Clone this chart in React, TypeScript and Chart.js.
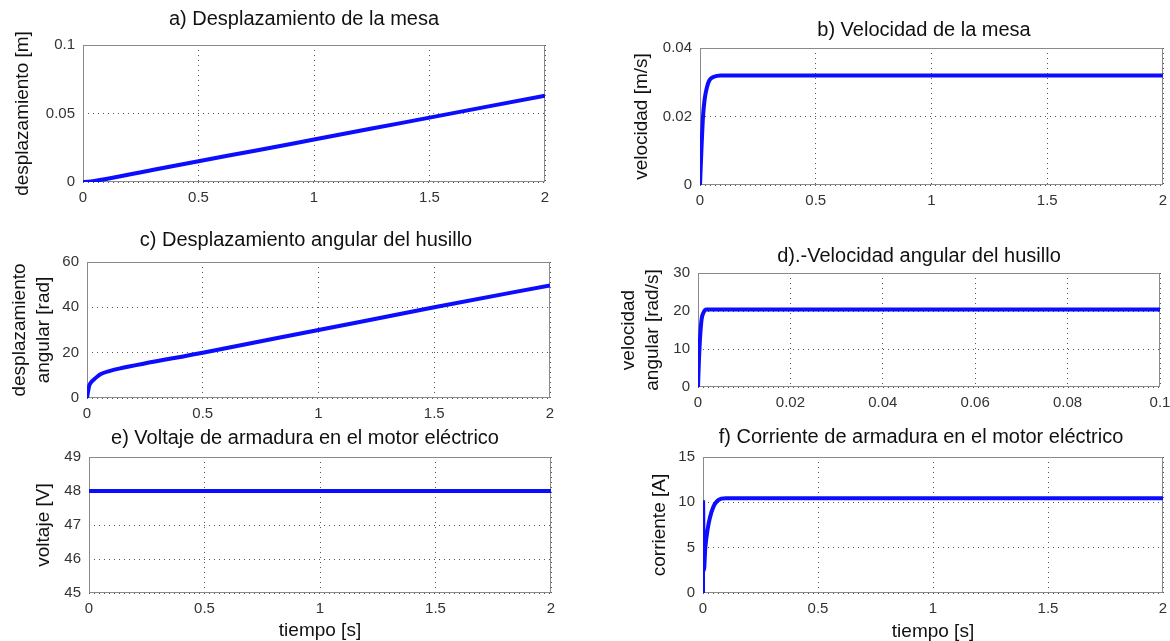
import React, { useEffect, useRef } from 'react';
import { Chart, registerables } from 'chart.js';
Chart.register(...registerables);

// ---------- data ----------
const tA = [0, 0.02, 0.05, 0.1, 0.3, 0.5, 0.75, 1, 1.25, 1.5, 1.75, 2];
const desplazamiento = [0, 0.0002, 0.0008, 0.0022, 0.0088, 0.0152, 0.023, 0.031, 0.039, 0.047, 0.055, 0.063];

const tB = [0, 0.006, 0.013, 0.02, 0.03, 0.04, 0.06, 0.09, 0.5, 1, 1.5, 2];
const velocidad = [0, 0.01, 0.02, 0.025, 0.0285, 0.0305, 0.0316, 0.032, 0.032, 0.032, 0.032, 0.032];

const tC = [0, 0.005, 0.01, 0.02, 0.03, 0.045, 0.06, 0.1, 0.145, 0.5, 1, 1.5, 2];
const despAngular = [0, 3, 5.5, 7.2, 8.2, 9.5, 10.6, 12, 13.1, 20, 30, 40, 49.7];

const tD = [0, 0.0002, 0.0005, 0.0008, 0.0012, 0.0018, 0.1];
const velAngular = [0, 7, 14, 18, 19.6, 20.4, 20.4];

const tE = [0, 2];
const voltaje = [48, 48];

const tF = [0, 0.0005, 0.002, 0.004, 0.01, 0.02, 0.03, 0.045, 0.06, 0.08, 0.1, 2];
const corriente = [0, 10, 5.5, 2.5, 5, 7, 8.3, 9.5, 10.1, 10.4, 10.45, 10.45];

const xTicksTime = [0, 0.5, 1, 1.5, 2];
const xTickLabelsTime = ['0', '0.5', '1', '1.5', '2'];
const xTicksShort = [0, 0.02, 0.04, 0.06, 0.08, 0.1];
const xTickLabelsShort = ['0', '0.02', '0.04', '0.06', '0.08', '0.1'];

const yTicksA = [0, 0.05, 0.1];
const yTickLabelsA = ['0', '0.05', '0.1'];
const yTicksB = [0, 0.02, 0.04];
const yTickLabelsB = ['0', '0.02', '0.04'];
const yTicksC = [0, 20, 40, 60];
const yTickLabelsC = ['0', '20', '40', '60'];
const yTicksD = [0, 10, 20, 30];
const yTickLabelsD = ['0', '10', '20', '30'];
const yTicksE = [45, 46, 47, 48, 49];
const yTickLabelsE = ['45', '46', '47', '48', '49'];
const yTicksF = [0, 5, 10, 15];
const yTickLabelsF = ['0', '5', '10', '15'];

// ---------- layout / style ----------
const FONT = "'Liberation Sans', Arial, sans-serif";
const LINE_COLOR = '#0c0cff';
const TITLE_SIZE = 20;
const TITLE_LH = 24;
const AXIS_TITLE_SIZE = 19;
const AXIS_TITLE_LH = 24;
const TICK_SIZE = 15;

type Box = { l: number; r: number; t: number; b: number; titleX: number; titleY: number; yLabelX: number; xTitleY?: number };

type PanelDef = {
  title: string;
  yTitle: string | string[];
  xTitle?: string;
  xs: number[];
  ys: number[];
  xTicks: number[];
  xTickLabels: string[];
  yTicks: number[];
  yTickLabels: string[];
  box: Box;
};

const panels: PanelDef[] = [
  {
    title: 'a) Desplazamiento de la mesa', yTitle: 'desplazamiento [m]',
    xs: tA, ys: desplazamiento, xTicks: xTicksTime, xTickLabels: xTickLabelsTime,
    yTicks: yTicksA, yTickLabels: yTickLabelsA,
    box: { l: 83, r: 545, t: 45, b: 182, titleX: 304, titleY: 19, yLabelX: 23 },
  },
  {
    title: 'b) Velocidad de la mesa', yTitle: 'velocidad [m/s]',
    xs: tB, ys: velocidad, xTicks: xTicksTime, xTickLabels: xTickLabelsTime,
    yTicks: yTicksB, yTickLabels: yTickLabelsB,
    box: { l: 700, r: 1163, t: 48, b: 185, titleX: 924, titleY: 30, yLabelX: 642 },
  },
  {
    title: 'c) Desplazamiento angular del husillo', yTitle: ['desplazamiento', 'angular [rad]'],
    xs: tC, ys: despAngular, xTicks: xTicksTime, xTickLabels: xTickLabelsTime,
    yTicks: yTicksC, yTickLabels: yTickLabelsC,
    box: { l: 87, r: 550, t: 262, b: 398, titleX: 306, titleY: 240, yLabelX: 20 },
  },
  {
    title: 'd).-Velocidad angular del husillo', yTitle: ['velocidad', 'angular [rad/s]'],
    xs: tD, ys: velAngular, xTicks: xTicksShort, xTickLabels: xTickLabelsShort,
    yTicks: yTicksD, yTickLabels: yTickLabelsD,
    box: { l: 698, r: 1160, t: 273, b: 387, titleX: 919, titleY: 256, yLabelX: 629 },
  },
  {
    title: 'e) Voltaje de armadura en el motor eléctrico', yTitle: 'voltaje [V]', xTitle: 'tiempo [s]',
    xs: tE, ys: voltaje, xTicks: xTicksTime, xTickLabels: xTickLabelsTime,
    yTicks: yTicksE, yTickLabels: yTickLabelsE,
    box: { l: 89, r: 551, t: 457, b: 593, titleX: 305, titleY: 438, yLabelX: 44, xTitleY: 631 },
  },
  {
    title: 'f) Corriente de armadura en el motor eléctrico', yTitle: 'corriente [A]', xTitle: 'tiempo [s]',
    xs: tF, ys: corriente, xTicks: xTicksTime, xTickLabels: xTickLabelsTime,
    yTicks: yTicksF, yTickLabels: yTickLabelsF,
    box: { l: 703, r: 1163, t: 457, b: 593, titleX: 921, titleY: 437, yLabelX: 660, xTitleY: 632 },
  },
];

const framePlugin = {
  id: 'frame',
  beforeDatasetsDraw(chart: any) {
    const { ctx, chartArea } = chart;
    const l = Math.round(chartArea.left) + 0.5;
    const t = Math.round(chartArea.top) + 0.5;
    const r = Math.round(chartArea.right) - 0.5;
    const b = Math.round(chartArea.bottom) - 0.5;
    ctx.save();
    ctx.strokeStyle = '#8a8a8a';
    ctx.lineWidth = 1;
    ctx.setLineDash([]);
    ctx.strokeRect(l, t, r - l, b - t);
    ctx.restore();
  },
};

function PanelChart({ p }: { p: PanelDef }) {
  const ref = useRef<HTMLCanvasElement | null>(null);
  const { box } = p;
  // horizontal geometry: the title is centred on the canvas, so the canvas is
  // centred on titleX; an empty right-hand axis fills the space right of the plot
  const cLeft = box.l - 100;
  const cWidth = Math.round(2 * (box.titleX - cLeft));
  const yWidth = box.l - cLeft;
  const rightSpace = cWidth - (box.r - cLeft);
  // vertical geometry
  const titlePadTop = 2;
  const cTop = Math.round(box.titleY - titlePadTop - TITLE_LH / 2);
  const titlePadBottom = box.t - cTop - titlePadTop - TITLE_LH;
  const xHeight = p.xTitle ? 52 : 30;
  const cHeight = box.b + xHeight - cTop;

  useEffect(() => {
    if (!ref.current) return;
    const data = p.xs.map((x, i) => ({ x, y: p.ys[i] }));
    const grid = {
      color: '#555',
      lineWidth: 1,
      drawTicks: false,
      tickLength: 0,
    };
    const chart = new Chart(ref.current, {
      type: 'line',
      data: {
        datasets: [
          {
            data,
            borderColor: LINE_COLOR,
            backgroundColor: LINE_COLOR,
            borderWidth: 4,
            pointRadius: 0,
            cubicInterpolationMode: 'monotone',
            fill: false,
            xAxisID: 'x',
            yAxisID: 'y',
          },
        ],
      },
      options: {
        animation: false,
        responsive: false,
        events: [],
        layout: { padding: 0 },
        plugins: {
          legend: { display: false },
          tooltip: { enabled: false },
          title: {
            display: true,
            text: p.title,
            color: '#111',
            font: { family: FONT, size: TITLE_SIZE, weight: 'normal', lineHeight: TITLE_LH + 'px' },
            padding: { top: titlePadTop, bottom: titlePadBottom },
          },
        },
        scales: {
          x: {
            type: 'linear',
            min: p.xTicks[0],
            max: p.xTicks[p.xTicks.length - 1],
            afterBuildTicks: (s: any) => { s.ticks = p.xTicks.map((v) => ({ value: v })); },
            afterFit: (s: any) => { s.height = xHeight; },
            grid: { ...grid },
            border: { display: false, dash: [1, 4] },
            ticks: {
              autoSkip: false,
              maxRotation: 0,
              padding: 7,
              color: '#333',
              font: { family: FONT, size: TICK_SIZE },
              callback: (v: any) => { const i = p.xTicks.indexOf(Number(v)); return i >= 0 ? p.xTickLabels[i] : ''; },
            },
            title: p.xTitle
              ? {
                  display: true,
                  text: p.xTitle,
                  color: '#111',
                  font: { family: FONT, size: AXIS_TITLE_SIZE, lineHeight: AXIS_TITLE_LH + 'px' },
                  padding: { top: 0, bottom: (box.b + xHeight) - (box.xTitleY as number) - AXIS_TITLE_LH / 2 },
                }
              : { display: false },
          },
          y: {
            type: 'linear',
            position: 'left',
            min: p.yTicks[0],
            max: p.yTicks[p.yTicks.length - 1],
            afterBuildTicks: (s: any) => { s.ticks = p.yTicks.map((v) => ({ value: v })); },
            afterFit: (s: any) => { s.width = yWidth; },
            grid: { ...grid },
            border: { display: false, dash: [1, 4] },
            ticks: {
              autoSkip: false,
              padding: 8,
              color: '#333',
              font: { family: FONT, size: TICK_SIZE },
              callback: (v: any) => { const i = p.yTicks.indexOf(Number(v)); return i >= 0 ? p.yTickLabels[i] : ''; },
            },
            title: {
              display: true,
              text: p.yTitle,
              color: '#111',
              font: { family: FONT, size: AXIS_TITLE_SIZE, lineHeight: AXIS_TITLE_LH + 'px' },
              padding: { top: box.yLabelX - cLeft - AXIS_TITLE_LH / 2, bottom: 0 },
            },
          },
          spacer: {
            type: 'linear',
            position: 'right',
            display: true,
            min: 0,
            max: 1,
            afterFit: (s: any) => { s.width = rightSpace; },
            grid: { display: false, drawTicks: false },
            border: { display: false },
            ticks: { display: false },
            title: { display: false },
          },
        },
      } as any,
      plugins: [framePlugin],
    });
    return () => chart.destroy();
  }, []);

  return (
    <canvas
      ref={ref}
      width={cWidth}
      height={cHeight}
      style={{ position: 'absolute', left: cLeft, top: cTop, width: cWidth, height: cHeight }}
    />
  );
}

export default function App() {
  return (
    <div
      style={{
        position: 'fixed',
        left: 0,
        top: 0,
        width: 1170,
        height: 641,
        overflow: 'hidden',
        background: '#fff',
      }}
    >
      {panels.map((p, i) => (
        <PanelChart key={i} p={p} />
      ))}
    </div>
  );
}
